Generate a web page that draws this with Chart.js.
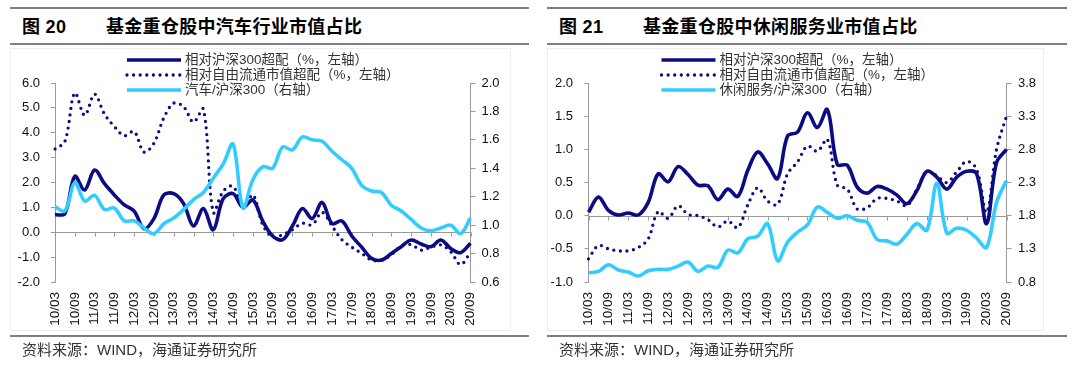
<!DOCTYPE html>
<html>
<head>
<meta charset="utf-8">
<script src="https://cdn.jsdelivr.net/npm/chart.js@4.4.0/dist/chart.umd.min.js"></script>
<style>
body { margin: 0; width: 1080px; height: 368px; background: #fff; position: relative; overflow: hidden;
       font-family: "Liberation Sans", "Noto Sans CJK SC", sans-serif; }
.rule { position: absolute; height: 2px; background: #7f7f7f; }
.title { position: absolute; top: 15px; font-size: 18px; font-weight: bold; line-height: 24px; color: #000; letter-spacing: 0.3px; white-space: nowrap; }
.frame { position: absolute; top: 48px; height: 283px; border: 1px solid #eeeeee; box-sizing: border-box; }
.box { position: absolute; top: 48px; width: 540px; height: 290px; }
.source { position: absolute; top: 340px; font-size: 15px; line-height: 20px; color: #333; white-space: nowrap; }
</style>
</head>
<body>
<div class="rule" style="left:10px; width:519px; top:7px;"></div>
<div class="title" style="left:22px;">图 20</div>
<div class="title" style="left:106px;">基金重仓股中汽车行业市值占比</div>
<div class="rule" style="left:10px; width:519px; top:43px;"></div>
<div class="frame" style="left:10px; width:501px;"></div>
<div class="box" style="left:0px;"><canvas id="AutoChart"></canvas></div>
<div class="rule" style="left:10px; width:519px; top:335px;"></div>
<div class="source" style="left:22px;">资料来源：WIND，海通证券研究所</div>

<div class="rule" style="left:547px; width:520px; top:7px;"></div>
<div class="title" style="left:559px;">图 21</div>
<div class="title" style="left:643px;">基金重仓股中休闲服务业市值占比</div>
<div class="rule" style="left:547px; width:520px; top:43px;"></div>
<div class="frame" style="left:547px; width:497px;"></div>
<div class="box" style="left:540px;"><canvas id="LeisureChart"></canvas></div>
<div class="rule" style="left:547px; width:520px; top:335px;"></div>
<div class="source" style="left:559px;">资料来源：WIND，海通证券研究所</div>

<script>
var quarters = [
    "10/03", "10/06", "10/09", "10/12", "11/03", "11/06", "11/09", "11/12",
    "12/03", "12/06", "12/09", "12/12", "13/03", "13/06", "13/09", "13/12",
    "14/03", "14/06", "14/09", "14/12", "15/03", "15/06", "15/09", "15/12",
    "16/03", "16/06", "16/09", "16/12", "17/03", "17/06", "17/09", "17/12",
    "18/03", "18/06", "18/09", "18/12", "19/03", "19/06", "19/09", "19/12",
    "20/03", "20/06", "20/09"
];

// 图20 汽车
var auto_vs_hs300 = [0.7, 0.75, 2.25, 1.7, 2.5, 1.95, 1.5, 1.1, 0.85, 0.15, 0.55, 1.5, 1.55, 1.15, 0.25,
    0.95, 0.1, 1.35, 1.55, 1.0, 1.3, 0.45, -0.15, -0.3, 0.25, 0.95, 0.55, 1.2, 0.35, 0.45,
    -0.15, -0.6, -1.05, -1.12, -0.85, -0.58, -0.31, -0.47, -0.58, -0.31, -0.65, -0.82, -0.44];
var auto_vs_free = [3.35, 3.65, 5.6, 4.7, 5.55, 4.75, 4.25, 3.88, 4.05, 3.22, 3.58, 4.6, 5.19, 5.05, 4.43,
    4.95, 0.8, 1.65, 1.85, 1.0, 1.5, 0.3, -0.2, -0.1, 0.1, 0.36, 0.3, 0.8, 0.25, -0.3,
    -0.6, -0.85, -1.12, -1.12, -0.9, -0.55, -0.5, -0.72, -0.6, -0.51, -0.78, -1.3, -0.8];
var auto_ratio = [1.13, 1.10, 1.30, 1.17, 1.21, 1.11, 1.12, 1.03, 1.03, 0.98, 0.94, 1.01, 1.05, 1.11, 1.18,
    1.23, 1.33, 1.43, 1.57, 1.12, 1.32, 1.41, 1.40, 1.55, 1.53, 1.62, 1.60, 1.59, 1.52, 1.46,
    1.40, 1.28, 1.24, 1.23, 1.14, 1.10, 1.04, 0.98, 0.96, 0.98, 1.00, 0.94, 1.05];

// 图21 休闲服务
var leisure_vs_hs300 = [0.05, 0.28, 0.08, 0.01, 0.04, 0.01, 0.2, 0.63, 0.51, 0.74, 0.62, 0.46, 0.45, 0.24, 0.40,
    0.29, 0.68, 0.96, 0.78, 0.56, 1.20, 1.26, 1.55, 1.33, 1.60, 0.77, 0.76, 0.43, 0.34, 0.44,
    0.40, 0.31, 0.18, 0.38, 0.67, 0.58, 0.40, 0.58, 0.67, 0.63, -0.12, 0.80, 1.00];
var leisure_vs_free = [-0.65, -0.45, -0.5, -0.53, -0.53, -0.48, -0.35, 0.06, -0.04, 0.15, 0.02, 0.0, -0.06, -0.17, -0.08,
    -0.18, 0.16, 0.42, 0.22, 0.17, 0.63, 0.81, 1.05, 0.97, 1.15, 0.46, 0.40, 0.10, 0.12, 0.26,
    0.26, 0.22, 0.15, 0.40, 0.67, 0.60, 0.50, 0.66, 0.82, 0.70, 0.05, 1.00, 1.50];
var leisure_ratio = [0.94, 0.96, 1.06, 0.98, 0.95, 0.89, 0.97, 0.99, 0.99, 1.04, 1.10, 0.96, 1.04, 1.02, 1.28,
    1.24, 1.45, 1.49, 1.68, 1.12, 1.40, 1.55, 1.66, 1.93, 1.85, 1.76, 1.80, 1.73, 1.70, 1.44,
    1.42, 1.37, 1.52, 1.68, 1.58, 2.29, 1.54, 1.61, 1.58, 1.46, 1.32, 2.00, 2.33];

var NAVY = '#0c0c82';
var CYAN = '#33ccff';
var AXIS_GREY = '#9a9a9a';
var TICK_FONT = {family: 'Liberation Sans', size: 13};

// legend stacked in three rows, drawn from the datasets themselves
var stackLegend = {
    id: 'stackLegend',
    afterDraw: (chart, args, opts) => {
        let ctx = chart.ctx;
        ctx.save();
        ctx.font = opts.font;
        ctx.textBaseline = 'middle';
        opts.rows.forEach((di, row) => {
            let ds = chart.data.datasets[di];
            let y = opts.y + row * opts.rowGap;
            ctx.beginPath();
            ctx.lineWidth = ds.borderWidth;
            ctx.strokeStyle = ds.borderColor;
            ctx.setLineDash(ds.borderDash || []);
            ctx.lineCap = ds.borderCapStyle || 'butt';
            ctx.moveTo(opts.x, y);
            ctx.lineTo(opts.x + opts.lineLength, y);
            ctx.stroke();
            ctx.setLineDash([]);
            ctx.fillStyle = opts.color;
            ctx.fillText(ds.label, opts.x + opts.lineLength + opts.gap, y);
        });
        ctx.restore();
    }
};

// category axis crosses the left axis at 0, tick every half year
var zeroAxis = {
    id: 'zeroAxis',
    beforeDatasetsDraw: chart => {
        let ctx = chart.ctx;
        let area = chart.chartArea;
        let y0 = Math.round(chart.scales.y.getPixelForValue(0)) + 0.5;
        ctx.save();
        ctx.strokeStyle = AXIS_GREY;
        ctx.lineWidth = 1;
        ctx.beginPath();
        ctx.moveTo(area.left, y0);
        ctx.lineTo(area.right, y0);
        chart.scales.x.ticks.forEach((t, i) => {
            if (i % 2) return;
            let x = Math.round(chart.scales.x.getPixelForTick(i)) + 0.5;
            ctx.moveTo(x, y0);
            ctx.lineTo(x, y0 + 4);
        });
        ctx.stroke();
        ctx.restore();
    }
};

function yAxis(position, min, max, step, width, pad, tickLen) {
    return {
        position: position,
        min: min,
        max: max,
        afterFit: scale => { scale.width = width; },
        grid: {drawOnChartArea: false, drawTicks: true, tickLength: tickLen, color: AXIS_GREY},
        border: {display: true, color: AXIS_GREY},
        ticks: {
            stepSize: step,
            padding: pad,
            color: '#111',
            font: TICK_FONT,
            callback: v => Number(v).toFixed(1)
        }
    };
}

function RenderChart(element_id, names, left, free, ratio, leftAxis, rightAxis, legendX) {
    return new Chart(document.getElementById(element_id), {
        type: 'line',
        plugins: [zeroAxis, stackLegend],
        data: {
            labels: quarters,
            datasets: [{
                label: names[0], data: left, yAxisID: 'y', order: 2,
                borderColor: NAVY, borderWidth: 3.6, tension: 0.35, pointRadius: 0
            }, {
                label: names[1], data: free, yAxisID: 'y', order: 1,
                borderColor: NAVY, borderWidth: 3.3, borderDash: [0, 6.6], borderCapStyle: 'round',
                tension: 0.35, pointRadius: 0
            }, {
                label: names[2], data: ratio, yAxisID: 'y1', order: 0,
                borderColor: CYAN, borderWidth: 3.6, tension: 0.35, pointRadius: 0
            }]
        },
        options: {
            responsive: true,
            maintainAspectRatio: false,
            animation: false,
            devicePixelRatio: 1,
            layout: {padding: {top: 35, left: 0, right: 0, bottom: 0}},
            plugins: {
                legend: {display: false},
                tooltip: {enabled: false},
                stackLegend: {
                    rows: [0, 1, 2], x: legendX, y: 12, rowGap: 15, lineLength: 54, gap: 4,
                    font: '13.5px "Liberation Sans", "Noto Sans CJK SC"', color: '#333'
                }
            },
            scales: {
                x: {
                    afterFit: scale => { scale.height = 56; },
                    grid: {display: false, drawTicks: false},
                    border: {display: false},
                    ticks: {
                        autoSkip: false,
                        minRotation: 90,
                        maxRotation: 90,
                        padding: 10,
                        color: '#111',
                        font: {family: 'Liberation Sans', size: 13.5},
                        callback: (v, i) => (i % 2 ? '' : quarters[i])
                    }
                },
                y: leftAxis,
                y1: rightAxis
            }
        }
    });
}

RenderChart('AutoChart',
    ['相对沪深300超配（%，左轴）', '相对自由流通市值超配（%，左轴）', '汽车/沪深300（右轴）'],
    auto_vs_hs300, auto_vs_free, auto_ratio,
    yAxis('left', -2, 6, 1, 55, 11, 4),
    yAxis('right', 0.6, 2.0, 0.2, 69.5, 6, 5),
    127);

RenderChart('LeisureChart',
    ['相对沪深300超配（%，左轴）', '相对自由流通市值超配（%，左轴）', '休闲服务/沪深300（右轴）'],
    leisure_vs_hs300, leisure_vs_free, leisure_ratio,
    yAxis('left', -1, 2, 0.5, 48.5, 11.5, 4),
    yAxis('right', 0.8, 3.8, 0.5, 73.5, 6.5, 5),
    121.5);
</script>
</body>
</html>
